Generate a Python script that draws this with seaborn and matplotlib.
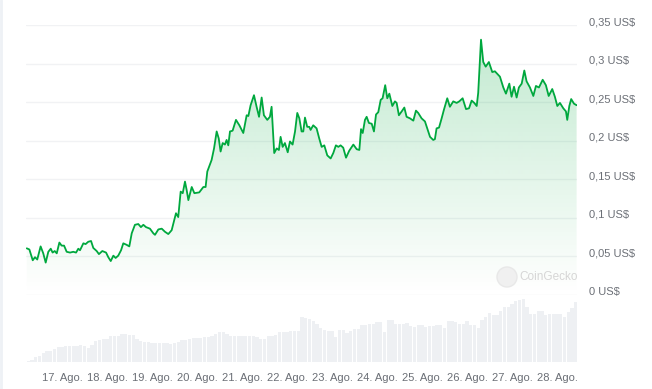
import numpy as np
import pandas as pd
import matplotlib
matplotlib.use("Agg")
import matplotlib.pyplot as plt
from matplotlib.patches import Ellipse
from matplotlib.lines import Line2D
from matplotlib.transforms import ScaledTranslation
import seaborn as sns

# ---- data (hours since 16 Aug 00:00) ----
hours = [5.2,6.6,8.4,9.6,10.8,12.6,14.0,15.3,16.7,18.0,19.0,20.1,21.2,22.6,23.8,25.1,26.5,28.3,30.0,31.5,
         32.7,33.6,35.4,36.6,38.0,39.5,40.7,42.5,43.7,45.5,47.5,48.7,50.0,51.4,52.6,54.0,55.5,56.7,58.5,59.9,
         61.2,62.9,64.7,66.1,67.4,68.8,70.9,72.7,73.6,75.4,77.2,78.9,80.7,82.5,84.8,86.0,87.3,88.4,89.6,90.5,
         91.4,93.2,94.6,97.2,99.4,100.6,101.5,103.8,105.1,106.5,107.6,108.6,109.7,110.9,111.8,112.7,113.6,115.0,116.8,118.6,
         120.7,122.5,123.4,124.6,126.4,127.8,129.1,130.5,131.7,133.5,134.9,135.8,137.2,138.5,139.7,140.6,141.7,142.9,144.4,145.6,
         147.0,148.3,149.5,150.6,151.8,152.7,153.6,154.8,155.9,156.6,158.0,159.8,161.2,162.5,163.9,165.5,167.3,168.7,170.1,171.4,
         172.6,174.0,175.5,177.2,179.4,181.2,182.6,183.5,184.4,185.6,186.5,187.7,189.2,190.4,191.5,192.7,194.0,195.0,196.4,197.5,
         198.6,200.2,201.6,202.5,203.7,205.2,206.6,207.8,209.6,211.4,212.8,214.0,215.8,217.6,218.8,220.3,222.0,222.9,223.8,225.1,
         226.5,227.7,229.5,230.9,232.7,234.5,235.9,237.7,239.5,241.1,242.5,243.9,245.2,246.0,247.5,248.7,250.0,251.7,253.5,254.9,
         257.6,259.4,260.8,262.6,263.8,265.1,266.5,267.7,269.2,270.6,271.8,273.6,275.4,276.8,278.4,280.4,282.1,283.6,285.5,286.9,
         288.2,289.6,291.4,292.8,293.5,294.6,295.6,297.1,298.5]
prices = [0.0605,0.059,0.045,0.049,0.046,0.063,0.054,0.042,0.056,0.060,0.055,0.057,0.054,0.068,0.064,0.064,0.056,0.055,0.056,0.055,
          0.060,0.058,0.067,0.066,0.069,0.070,0.061,0.057,0.053,0.057,0.055,0.049,0.044,0.051,0.048,0.051,0.058,0.067,0.065,0.063,
          0.080,0.091,0.092,0.088,0.091,0.088,0.086,0.080,0.078,0.085,0.086,0.082,0.079,0.084,0.106,0.101,0.134,0.132,0.147,0.136,
          0.123,0.140,0.132,0.133,0.140,0.140,0.160,0.175,0.190,0.212,0.203,0.186,0.197,0.195,0.201,0.194,0.212,0.213,0.227,0.220,
          0.210,0.233,0.232,0.246,0.259,0.244,0.231,0.256,0.233,0.227,0.231,0.244,0.184,0.190,0.188,0.205,0.192,0.197,0.185,0.199,
          0.195,0.212,0.236,0.229,0.212,0.212,0.230,0.218,0.218,0.214,0.220,0.216,0.203,0.192,0.194,0.181,0.177,0.184,0.194,0.192,
          0.194,0.191,0.178,0.187,0.195,0.189,0.188,0.215,0.210,0.227,0.231,0.223,0.222,0.212,0.234,0.237,0.253,0.255,0.272,0.255,
          0.261,0.245,0.251,0.249,0.233,0.238,0.243,0.231,0.229,0.226,0.239,0.236,0.229,0.225,0.216,0.205,0.201,0.202,0.216,0.217,
          0.229,0.240,0.255,0.244,0.251,0.249,0.251,0.255,0.241,0.242,0.252,0.249,0.245,0.262,0.331,0.302,0.296,0.302,0.289,0.290,
          0.283,0.269,0.261,0.274,0.257,0.270,0.256,0.269,0.274,0.291,0.277,0.269,0.258,0.271,0.269,0.279,0.272,0.258,0.267,0.257,
          0.245,0.249,0.242,0.238,0.227,0.245,0.254,0.248,0.246]

vol_hours = list(range(6, 299, 2))
volumes = [1.3,2.3,4.7,5.7,9,11.3,11.5,13,14.7,14.7,
           15.7,15.7,15.7,16,17.3,16,14,17.3,21.3,22,
           23,23,25.7,25.7,25.7,28.3,28.3,27.3,27,23,
           21.3,20,20,19,19,19,19,19,18,19,
           19.7,22.3,22.3,23,24,24,24.5,24.7,24.7,26,
           28,29.7,29.7,28,25.7,25.7,25.7,25.7,26.3,26.3,
           26.3,25,23.3,23.3,25.7,25.7,27.3,29.7,29.7,29.7,
           30.7,30.7,30.7,44.7,44,43.3,40.7,38,34,32,
           30.7,30.7,24.7,32.3,32.3,29,31,33.3,33.3,37.3,
           37.3,38,38,40,40,29.7,41.7,41.7,38,38,
           38,39,36,34.7,37.3,37,34.7,35.7,35.7,36.7,
           36.7,34,40.7,40.7,40,38,38,40.7,37.3,37.3,
           34,42.3,45,49,47.3,47.3,51.3,54.7,54.7,58,
           61.3,62,63.3,54.7,48,48,50.7,50.7,46.7,48,
           48,48,48,44.7,50,54,60]

day_ticks = [24, 48, 72, 96, 120, 144, 168, 192, 216, 240, 264, 288]
day_labels = ["17. Ago.", "18. Ago.", "19. Ago.", "20. Ago.", "21. Ago.", "22. Ago.",
              "23. Ago.", "24. Ago.", "25. Ago.", "26. Ago.", "27. Ago.", "28. Ago."]
price_ticks = [0, 0.05, 0.1, 0.15, 0.2, 0.25, 0.3, 0.35]
price_labels = ["0 US$", "0,05 US$", "0,1 US$", "0,15 US$", "0,2 US$", "0,25 US$", "0,3 US$", "0,35 US$"]

assert len(hours) == len(prices), (len(hours), len(prices))
assert len(vol_hours) == len(volumes)

price_df = pd.DataFrame({"hour": hours, "price": prices})
vol_df = pd.DataFrame({"hour": vol_hours, "volume": volumes})

sns.set_theme(style="white")
plt.rcParams["font.family"] = ["Liberation Sans", "DejaVu Sans"]

W, H = 652, 389
fig = plt.figure(figsize=(W / 100, H / 100), dpi=100)
fig.patch.set_facecolor("white")
XMIN, XMAX = 4.8, 298.7
GREEN = "#00a83e"

ax = fig.add_axes([26 / W, 94 / H, 551 / W, 270 / H])
axv = fig.add_axes([26 / W, 27 / H, 551 / W, 67 / H])

# gridlines
for t in price_ticks:
    ax.axhline(t, color="#f1f2f4", lw=1.0, zorder=0)

# gradient fill under line
poly = ax.fill_between(price_df["hour"], price_df["price"], 0, color="none", lw=0)
top = max(prices)
n = 256
alpha = np.linspace(0.0, 0.24, n).reshape(-1, 1)
rgba = np.zeros((n, 1, 4))
rgba[..., 0] = 0 / 255
rgba[..., 1] = 168 / 255
rgba[..., 2] = 62 / 255
rgba[..., 3] = alpha
im = ax.imshow(rgba, extent=[XMIN, XMAX, 0, top], origin="lower", aspect="auto", zorder=1)
im.set_clip_path(poly.get_paths()[0], transform=ax.transData)

sns.lineplot(data=price_df, x="hour", y="price", ax=ax, color=GREEN, lw=1.3, zorder=3)

ax.set_xlim(XMIN, XMAX)
ax.set_ylim(0, 0.35)
ax.set_xticks([])
ax.yaxis.tick_right()
ax.set_yticks(price_ticks)
ax.set_yticklabels(price_labels)
ax.tick_params(axis="y", length=0, pad=8.6, labelsize=8, labelcolor="#6b6f76")
shift = ScaledTranslation(0, 4 / 100, fig.dpi_scale_trans)
for lab in ax.get_yticklabels():
    lab.set_transform(lab.get_transform() + shift)
ax.set_xlabel("")
ax.set_ylabel("")
for s in ax.spines.values():
    s.set_visible(False)
ax.patch.set_alpha(0)

# volume bars
sns.barplot(data=vol_df, x="hour", y="volume", ax=axv, native_scale=True,
            color="#eef0f3", width=0.85, saturation=1, edgecolor="none")
axv.set_xlim(XMIN, XMAX)
axv.set_ylim(0, 67)
axv.set_yticks([])
axv.set_xticks(day_ticks)
axv.set_xticklabels(day_labels)
axv.tick_params(axis="x", length=3, color="#e0e2e6", width=1, pad=5, labelsize=8, labelcolor="#6b6f76")
axv.set_xlabel("")
axv.set_ylabel("")
for s in axv.spines.values():
    s.set_visible(False)
axv.patch.set_alpha(0)

# left border strip
fig.add_artist(Line2D([1 / W, 1 / W], [0, 1], transform=fig.transFigure, color="#eef1f5", lw=2))

# watermark
fig.add_artist(Ellipse((507 / W, 1 - 277 / H), 20 / W, 20 / H, transform=fig.transFigure,
                       facecolor="#f0f0f0", edgecolor="#e8e8e8", lw=1))
fig.text(519 / W, 1 - 277 / H, "CoinGecko", color="#d6d6d6", fontsize=8.5,
         va="center", ha="left")

fig.savefig("out.png", dpi=100)
